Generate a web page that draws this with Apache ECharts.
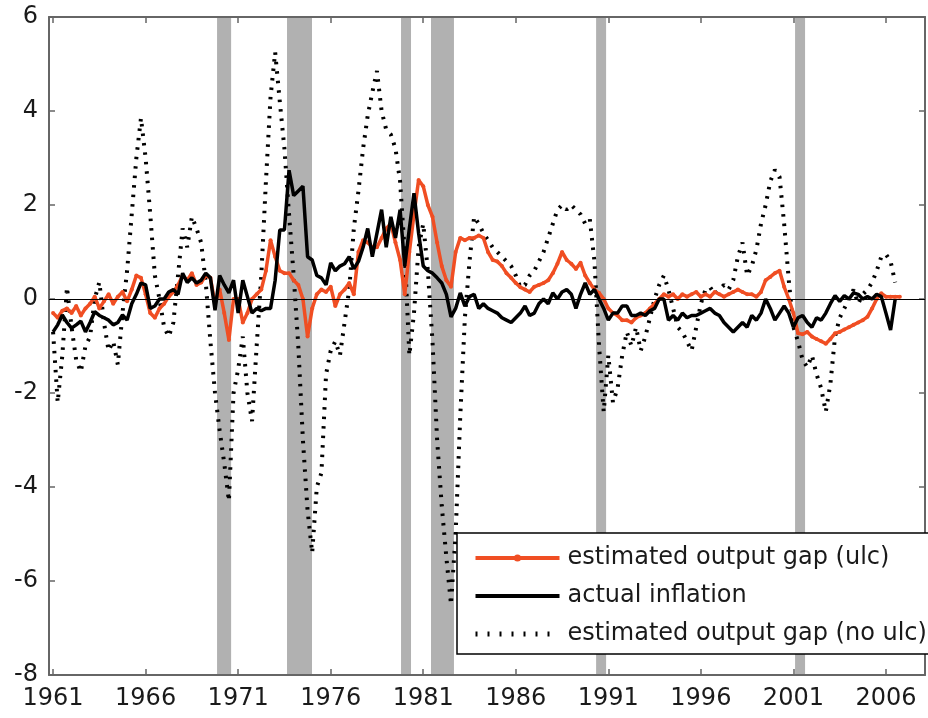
<!DOCTYPE html>
<html>
<head>
<meta charset="utf-8">
<script src="https://cdn.jsdelivr.net/npm/echarts@6/dist/echarts.min.js"></script>
<style>html,body{margin:0;padding:0;background:#fff}#c{width:928px;height:718px}</style>
</head>
<body>
<div id="c"></div>
<script>
// Quarterly data, first observation 1961Q1
const startYear = 1961;
const seriesNames = ['estimated output gap (ulc)', 'actual inflation', 'estimated output gap (no ulc)'];
const xTicks = [1961, 1966, 1971, 1976, 1981, 1986, 1991, 1996, 2001, 2006];
const yTicks = [-8, -6, -4, -2, 0, 2, 4, 6];
// recession shading [start, end] (fractional years)
const recessions = [[1969.86, 1970.62], [1973.64, 1974.99], [1979.80, 1980.34], [1981.42, 1982.66], [1990.34, 1990.88], [2001.09, 2001.63]];

const gapUlc = [
  -0.3, -0.4, -0.25, -0.2,   -0.3, -0.15, -0.35, -0.2,   -0.1, 0.05, -0.2, -0.05,   0.1, -0.1, 0.05, 0.15,
  -0.05, 0.2, 0.5, 0.45,     0.1, -0.3, -0.4, -0.2,      -0.1, 0.05, 0.15, 0.3,     0.5, 0.4, 0.55, 0.3,
  0.35, 0.5, 0.45, -0.1,     0.2, -0.3, -0.87, 0.0,      0.0, -0.5, -0.3, 0.0,      0.1, 0.2, 0.6, 1.25,
  0.9, 0.6, 0.55, 0.55,      0.4, 0.3, 0.0, -0.8,        -0.2, 0.1, 0.2, 0.15,      0.26, -0.15, 0.1, 0.2,
  0.34, 0.1, 1.0, 1.25,      1.2, 1.1, 1.1, 1.3,         1.5, 1.6, 1.2, 0.83,       0.1, 1.0, 1.8, 2.53,
  2.4, 2.0, 1.75, 1.2,       0.7, 0.4, 0.26, 1.0,        1.3, 1.25, 1.3, 1.3,       1.35, 1.3, 1.0, 0.83,
  0.8, 0.7, 0.55, 0.45,      0.34, 0.25, 0.2, 0.15,      0.26, 0.3, 0.34, 0.4,      0.55, 0.75, 1.0, 0.83,
  0.75, 0.64, 0.77, 0.5,     0.34, 0.2, 0.13, 0.0,       -0.2, -0.3, -0.35, -0.45,  -0.45, -0.5, -0.4, -0.35,
  -0.3, -0.2, -0.1, 0.0,     0.1, 0.05, 0.1, 0.0,        0.1, 0.05, 0.1, 0.15,      0.05, 0.1, 0.05, 0.15,
  0.1, 0.05, 0.1, 0.15,      0.2, 0.15, 0.1, 0.1,        0.05, 0.15, 0.4, 0.47,     0.55, 0.6, 0.26, 0.0,
  -0.3, -0.73, -0.75, -0.7,  -0.8, -0.85, -0.9, -0.95,   -0.85, -0.73, -0.7, -0.65, -0.6, -0.55, -0.5, -0.45,
  -0.38, -0.2, 0.0, 0.12,    0.05, 0.05, 0.05, 0.05
];

const inflation = [
  -0.7, -0.55, -0.34, -0.5,  -0.62, -0.55, -0.47, -0.7,  -0.5, -0.27, -0.35, -0.4,  -0.45, -0.55, -0.5, -0.34,
  -0.45, -0.1, 0.1, 0.34,    0.3, -0.2, -0.15, 0.0,      0.0, 0.15, 0.2, 0.1,       0.55, 0.35, 0.45, 0.34,
  0.4, 0.55, 0.45, -0.24,    0.5, 0.3, 0.13, 0.4,        -0.3, 0.4, 0.05, -0.3,     -0.2, -0.25, -0.2, -0.2,
  0.4, 1.47, 1.47, 2.74,     2.2, 2.3, 2.4, 0.9,         0.83, 0.5, 0.45, 0.3,      0.77, 0.6, 0.7, 0.75,
  0.9, 0.64, 0.8, 1.1,       1.5, 0.9, 1.4, 1.9,         1.1, 1.75, 1.3, 1.9,       0.7, 1.5, 2.25, 1.4,
  0.7, 0.6, 0.55, 0.45,      0.34, 0.1, -0.38, -0.2,     0.13, -0.15, 0.05, 0.1,    -0.2, -0.1, -0.2, -0.25,
  -0.3, -0.4, -0.45, -0.5,   -0.4, -0.3, -0.15, -0.35,   -0.3, -0.1, 0.0, -0.1,     0.13, 0.0, 0.15, 0.2,
  0.1, -0.2, 0.1, 0.34,      0.1, 0.2, 0.0, -0.2,        -0.45, -0.3, -0.3, -0.15,  -0.15, -0.35, -0.35, -0.3,
  -0.35, -0.25, -0.2, 0.0,   0.0, -0.45, -0.35, -0.45,   -0.3, -0.4, -0.35, -0.35,  -0.3, -0.25, -0.2, -0.3,
  -0.35, -0.5, -0.6, -0.7,   -0.6, -0.5, -0.6, -0.35,    -0.45, -0.3, 0.0, -0.2,    -0.45, -0.3, -0.15, -0.3,
  -0.6, -0.4, -0.35, -0.5,   -0.6, -0.4, -0.45, -0.3,    -0.1, 0.07, -0.05, 0.07,   0.0, 0.13, 0.1, 0.0,
  0.05, 0.0, 0.1, 0.05,      -0.3, -0.66, 0.0
];

const gapNoUlc = [
  -0.7, -2.2, -1.2, 0.25,    -0.6, -1.3, -1.55, -1.0,    -0.8, 0.0, 0.36, -0.5,     -1.1, -0.9, -1.4, -0.3,
  0.6, 1.8, 3.0, 3.85,       3.0, 1.8, 0.5, 0.0,         -0.6, -0.8, -0.5, 0.5,     1.5, 1.1, 1.75, 1.5,
  1.2, 0.35, -0.9, -2.0,     -2.8, -3.5, -4.3, -2.0,     -1.5, -0.8, -2.0, -2.6,    -1.0, 0.5, 2.5, 4.3,
  5.25, 4.2, 3.2, 1.8,       0.5, -1.0, -3.0, -4.5,      -5.4, -4.0, -3.7, -1.6,    -1.1, -0.9, -1.2, -0.5,
  0.2, 1.5, 2.3, 3.2,        3.9, 4.4, 4.85, 4.0,        3.6, 3.5, 3.2, 2.5,        1.0, -1.2, -0.3, 1.1,
  1.6, 0.6, -0.9, -3.0,      -4.4, -5.5, -6.5, -5.0,     -2.5, -0.4, 0.8, 1.75,     1.6, 1.4, 1.25, 1.1,
  1.0, 0.9, 0.8, 0.7,        0.5, 0.25, 0.3, 0.5,        0.6, 0.8, 1.0, 1.3,        1.6, 1.9, 2.0, 1.9,
  2.0, 1.9, 1.8, 1.6,        1.7, 0.8, -1.0, -2.4,       -1.2, -2.2, -1.9, -1.2,    -0.7, -1.0, -0.6, -1.1,
  -0.8, -0.4, 0.0, 0.3,      0.5, 0.2, -0.2, -0.6,       -0.7, -0.9, -1.1, -0.6,    -0.1, 0.2, 0.25, 0.1,
  0.2, 0.3, 0.2, 0.4,        0.9, 1.2, 0.5, 0.7,         1.05, 1.6, 2.0, 2.5,       2.75, 2.6, 1.6, 0.4,
  -0.6, -0.9, -1.3, -1.45,   -1.2, -1.6, -1.9, -2.4,     -1.8, -0.8, -0.4, -0.2,    0.0, 0.2, -0.1, 0.1,
  0.2, 0.35, 0.6, 0.9,       0.95, 0.8, 0.35
];

const toPairs = arr => arr.map((v, i) => [startYear + i / 4, v]);

const FONT = 'DejaVu Sans';
const axisCol = '#666';
const ORANGE = '#f04e23';
const chart = echarts.init(document.getElementById('c'), null, {renderer: 'canvas'});

const xMin = 1960.78, xMax = 2008.11;
const baseX = {
  type: 'value', min: xMin, max: xMax, splitLine: {show: false},
  axisLine: {show: true, onZero: false, lineStyle: {color: axisCol, width: 2}}
};
const baseY = {
  type: 'value', min: -8, max: 6, interval: 2, splitLine: {show: false},
  axisLine: {show: true, onZero: false, lineStyle: {color: axisCol, width: 2}}
};
const hiddenMarker = {color: 'rgba(0,0,0,0)', borderColor: 'rgba(0,0,0,0)', borderWidth: 0};

chart.setOption({
  animation: false,
  backgroundColor: '#fff',
  textStyle: {fontFamily: FONT},
  grid: {left: 49, right: 3, top: 17, bottom: 43, containLabel: false},
  xAxis: [
    Object.assign({}, baseX, {
      position: 'bottom',
      axisTick: {show: true, inside: true, length: 6, customValues: xTicks, lineStyle: {color: axisCol, width: 1.5}},
      axisLabel: {show: true, customValues: xTicks, margin: 12, fontSize: 24, color: '#1a1a1a', fontFamily: FONT,
        formatter: v => String(Math.round(v))}
    }),
    Object.assign({}, baseX, {
      position: 'top',
      axisTick: {show: true, inside: true, length: 6, customValues: xTicks, lineStyle: {color: axisCol, width: 1.5}},
      axisLabel: {show: false}
    })
  ],
  yAxis: [
    Object.assign({}, baseY, {
      position: 'left',
      axisTick: {show: true, inside: true, length: 6, lineStyle: {color: axisCol, width: 1.5}},
      axisLabel: {show: true, margin: 11, fontSize: 24, color: '#1a1a1a', fontFamily: FONT}
    }),
    Object.assign({}, baseY, {
      position: 'right',
      axisTick: {show: true, inside: true, length: 6, lineStyle: {color: axisCol, width: 1.5}},
      axisLabel: {show: false}
    })
  ],
  legend: {
    show: true,
    data: [
      {name: seriesNames[0], lineStyle: {width: 4}},
      {name: seriesNames[1], itemStyle: hiddenMarker, lineStyle: {width: 4}},
      {name: seriesNames[2], itemStyle: hiddenMarker, lineStyle: {width: 5, type: [2, 10]}}
    ],
    orient: 'vertical',
    left: 457, top: 533,
    padding: [13, 8, 8, 16],
    itemGap: 14,
    itemWidth: 84, itemHeight: 9,
    backgroundColor: '#fff',
    borderColor: '#000', borderWidth: 1.5, borderRadius: 0,
    textStyle: {fontSize: 24, color: '#1a1a1a', fontFamily: FONT, padding: [0, 0, 0, 3], height: 24, lineHeight: 24}
  },
  series: [
    {
      name: seriesNames[2], type: 'line', xAxisIndex: 0, yAxisIndex: 0, z: 2,
      data: toPairs(gapNoUlc), showSymbol: false, symbol: 'none',
      lineStyle: {color: '#000', width: 4, type: [2.5, 7], cap: 'butt'},
      itemStyle: {color: '#000'},
      markArea: {
        silent: true, z: 0,
        itemStyle: {color: '#b1b1b1'},
        data: recessions.map(r => [{xAxis: r[0]}, {xAxis: r[1]}])
      }
    },
    {
      name: seriesNames[0], type: 'line', xAxisIndex: 0, yAxisIndex: 0, z: 3,
      data: toPairs(gapUlc), symbol: 'circle', symbolSize: 4, showSymbol: true,
      lineStyle: {color: ORANGE, width: 3.5},
      itemStyle: {color: ORANGE}
    },
    {
      name: seriesNames[1], type: 'line', xAxisIndex: 0, yAxisIndex: 0, z: 4,
      data: toPairs(inflation), showSymbol: false, symbol: 'none',
      lineStyle: {color: '#000', width: 3.5},
      itemStyle: {color: '#000'},
      markLine: {
        silent: true, symbol: 'none', label: {show: false},
        lineStyle: {color: '#000', width: 1, type: 'solid'},
        data: [{yAxis: 0}]
      }
    }
  ]
});
</script>
</body>
</html>
